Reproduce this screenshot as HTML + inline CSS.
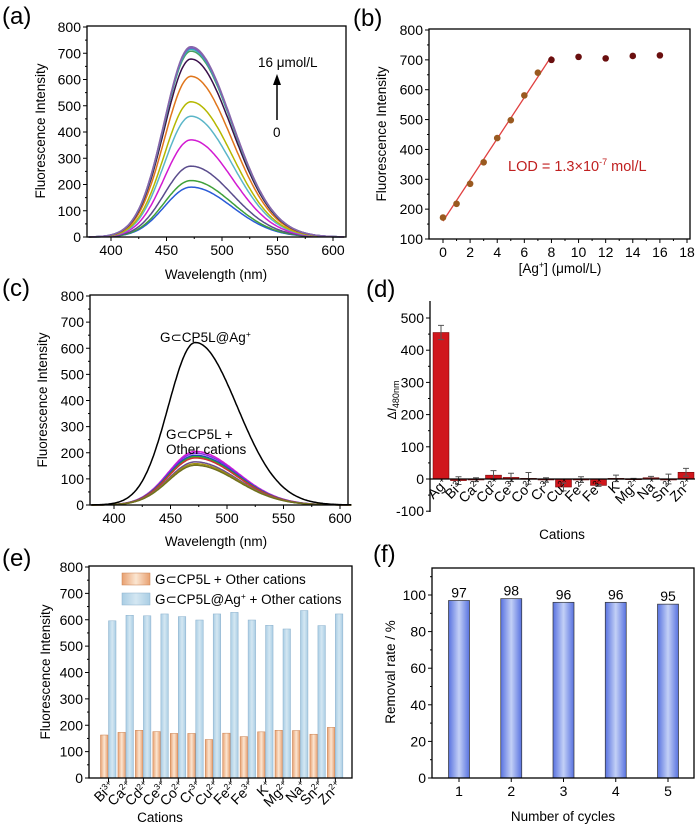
<!DOCTYPE html>
<html><head><meta charset="utf-8"><style>
html,body{margin:0;padding:0;background:#fff;}
svg{display:block;font-family:"Liberation Sans",sans-serif;}
</style></head><body>
<svg id="fig" width="700" height="827" viewBox="0 0 700 827" xmlns="http://www.w3.org/2000/svg">
<defs>
<linearGradient id="gOr" x1="0" x2="1" y1="0" y2="0"><stop offset="0" stop-color="#e8a070"/><stop offset="0.5" stop-color="#fbe6d2"/><stop offset="1" stop-color="#e8a070"/></linearGradient>
<linearGradient id="gBl" x1="0" x2="1" y1="0" y2="0"><stop offset="0" stop-color="#a9cde4"/><stop offset="0.5" stop-color="#d4e7f2"/><stop offset="1" stop-color="#a9cde4"/></linearGradient>
<linearGradient id="gF" x1="0" x2="1" y1="0" y2="0"><stop offset="0" stop-color="#5872e0"/><stop offset="0.5" stop-color="#c3d0f6"/><stop offset="1" stop-color="#5872e0"/></linearGradient>
</defs>
</svg>
<script>
// ---- data ----
const aPeaks=[190,215,270,370,460,515,612,678,708,715,720,725];
const aColors=["#2a5bd7","#3fa03a","#5a4c8c","#d21ad2","#5bb6c8","#b5b800","#e0761c","#3a0f4a","#4aa060","#30b0c0","#7a5cc0","#8866aa"];
const bX=[0,1,2,3,4,5,6,7,8,10,12,14,16];
const bY=[172,218,285,357,438,498,581,657,700,710,705,713,715];
const bFit=[[0,160],[8,712]];
const cPeakAg=[622];
const cPeaks=[205,198,190,185,180,165,158,152];
const cColors=["#d21ad2","#8a2be2","#1f3fbf","#2bb02b","#d03030","#6a4c8c","#a09010","#707020"];
const dCats=["Ag","Bi","Ca","Cd","Ce","Co","Cr","Cu","Fe","Fe","K","Mg","Na","Sn","Zn"];
const dCharges=["+","3+","2+","2+","3+","2+","3+","2+","2+","3+","+","2+","+","2+","2+"];
const dVals=[455,-5,-2,12,5,2,-3,-25,-2,-20,2,1,4,0,21];
const dErr=[22,12,6,14,13,18,7,12,9,3,10,1,4,15,12];
const eCats=["Bi","Ca","Cd","Ce","Co","Cr","Cu","Fe","Fe","K","Mg","Na","Sn","Zn"];
const eCharges=["3+","2+","2+","3+","2+","3+","2+","2+","3+","+","2+","+","2+","2+"];
const eOrange=[163,173,181,176,169,169,146,170,157,175,181,180,166,192];
const eBlue=[596,617,615,622,612,599,622,628,599,579,565,635,578,622];
const fCats=[1,2,3,4,5];
const fVals=[97,98,96,96,95];

const NS="http://www.w3.org/2000/svg";
const svg=document.getElementById('fig');
const TF=14, AF=13.5;
function el(tag,attrs,parent,text){const e=document.createElementNS(NS,tag);for(const k in attrs)e.setAttribute(k,attrs[k]);if(text!==undefined)e.textContent=text;(parent||svg).appendChild(e);return e;}
function lin(d0,d1,p0,p1){return v=>p0+(v-d0)*(p1-p0)/(d1-d0);}
function spec(w,peak){const c=472;const s=w<c?24:37;return peak*Math.exp(-((w-c)*(w-c))/(2*s*s));}

function frame(g,x0,y0,x1,y1,box){
  if(box){const r=el('rect',{x:x0,y:y0,width:x1-x0,height:y1-y0,fill:'none',stroke:'#000','stroke-width':1.3},g);}
}
function yTicks(g,ys,vals,x0,fs,minor){
  vals.forEach(v=>{const y=ys(v);el('line',{x1:x0-4,x2:x0,y1:y,y2:y,stroke:'#000','stroke-width':1},g);
    const t=el('text',{x:x0-6,y:y+5,'text-anchor':'end','font-size':fs},g,String(v));});
  if(minor)minor.forEach(v=>{const y=ys(v);el('line',{x1:x0-2,x2:x0,y1:y,y2:y,stroke:'#000','stroke-width':1},g);});
}
function xTicks(g,xs,vals,y0,fs,minor){
  vals.forEach(v=>{const x=xs(v);el('line',{x1:x,x2:x,y1:y0,y2:y0+4,stroke:'#000','stroke-width':1},g);
    const t=el('text',{x:x,y:y0+18,'text-anchor':'middle','font-size':fs},g,String(v));});
  if(minor)minor.forEach(v=>{const x=xs(v);el('line',{x1:x,x2:x,y1:y0,y2:y0+2,stroke:'#000','stroke-width':1},g);});
}
function label(txt,x,y){const t=el('text',{x:x,y:y,'font-size':24},svg,txt);}
function ytitle(g,txt,x,y,fs){const t=el('text',{x:0,y:0,transform:`translate(${x},${y}) rotate(-90)`,'text-anchor':'middle','font-size':fs||AF},g,txt);return t;}
function xtitle(g,txt,x,y){const t=el('text',{x:x,y:y,'text-anchor':'middle','font-size':AF},g,txt);return t;}
function ion(g,x,y,name,ch,fs){const t=el('text',{x:0,y:0,transform:`translate(${x},${y}) rotate(-45)`,'text-anchor':'end','font-size':fs},g);
  
  el('tspan',{},t,name);el('tspan',{dy:-5,'font-size':fs*0.62},t,ch);}
function specPanel(g,xs,ys,peaks,colors,nm){
  peaks.forEach((p,i)=>{let d='';for(let w=380;w<=610;w+=1){const y=ys(spec(w,p));d+=(w===380?'M':'L')+xs(w).toFixed(1)+','+y.toFixed(1);}
    const pth=el('path',{d:d,fill:'none',stroke:colors[i%colors.length],'stroke-width':1.5},g);});
}

// ---- panel a ----
{const g=el('g',{});
 const xs=lin(400,600,111,333),ys=lin(0,800,237,27);
 specPanel(g,xs,ys,aPeaks,aColors,'spectrum-curve');
 frame(g,87,26,346,237,true);
 yTicks(g,ys,[0,100,200,300,400,500,600,700,800],87,TF,[50,150,250,350,450,550,650,750]);
 xTicks(g,xs,[400,450,500,550,600],237,TF,[425,475,525,575]);
 ytitle(g,'Fluorescence Intensity',45,131);xtitle(g,'Wavelength (nm)',216,279);
 const t=el('text',{x:258,y:67,'font-size':AF},g,'16 μmol/L');
 el('line',{x1:277,x2:277,y1:120,y2:82,stroke:'#000','stroke-width':1.5},g);
 el('polygon',{points:'273,85 281,85 277,74',fill:'#000'},g);
 const t0=el('text',{x:273,y:137,'font-size':AF},g,'0');
}
label('(a)',2,24);
// ---- panel b ----
{const g=el('g',{});
 const xs=lin(0,18,443,687),ys=lin(100,800,239,30);
 frame(g,429,29,690,239,true);
 yTicks(g,ys,[100,200,300,400,500,600,700,800],429,TF,[150,250,350,450,550,650,750]);
 xTicks(g,xs,[0,2,4,6,8,10,12,14,16,18],239,TF,[1,3,5,7,9,11,13,15,17]);
 ytitle(g,'Fluorescence Intensity',386,134);
 const xt=xtitle(g,'',560,273);el('tspan',{},xt,'[Ag');el('tspan',{dy:-5,'font-size':9},xt,'+');el('tspan',{dy:5},xt,'] (μmol/L)');
 const ln=el('line',{x1:xs(bFit[0][0]),y1:ys(bFit[0][1]),x2:xs(bFit[1][0]),y2:ys(bFit[1][1]),stroke:'#e04040','stroke-width':1.3},g);
 bX.forEach((x,i)=>{const c=el('circle',{cx:xs(x),cy:ys(bY[i]),r:3.3,fill:i<8?'#9a5a20':'#6a0f0f'},g);});
 const t=el('text',{x:508,y:171,'font-size':14.5,fill:'#c02020'},g);
 el('tspan',{},t,'LOD = 1.3×10');el('tspan',{dy:-6,'font-size':9},t,'-7');el('tspan',{dy:6},t,' mol/L');
}
label('(b)',353,26);
// ---- panel c ----
{const g=el('g',{});
 const xs=lin(400,600,114,340),ys=lin(0,800,505,296);
 specPanel(g,xs,ys,cPeaks,cColors,'cation-spectrum');
 specPanel(g,xs,ys,cPeakAg,['#000'],'ag-spectrum');
 frame(g,90,295,348,505,true);
 yTicks(g,ys,[0,100,200,300,400,500,600,700,800],90,TF,[50,150,250,350,450,550,650,750]);
 xTicks(g,xs,[400,450,500,550,600],505,TF,[425,475,525,575]);
 ytitle(g,'Fluorescence Intensity',47,400);xtitle(g,'Wavelength (nm)',216,546);
 const t1=el('text',{x:160,y:342,'font-size':AF},g);
 el('tspan',{},t1,'G⊂CP5L@Ag');el('tspan',{dy:-5,'font-size':8.5},t1,'+');
 const t2=el('text',{x:166,y:439,'font-size':AF},g,'G⊂CP5L +');
 const t3=el('text',{x:166,y:454,'font-size':AF},g,'Other cations');
}
label('(c)',2,296);
// ---- panel d ----
{const g=el('g',{});
 const ys=lin(0,500,479,318);const xs=i=>441+i*17.5;
 el('line',{x1:430,x2:430,y1:301,y2:512,stroke:'#000','stroke-width':1.3},g);
 dVals.forEach((v,i)=>{const y0=ys(0),y1=ys(v);const r=el('rect',{x:xs(i)-8,y:Math.min(y0,y1),width:16,height:Math.max(1,Math.abs(y1-y0)),fill:'#d0161c',stroke:'#600','stroke-width':0.5},g);
   const ya=ys(v+dErr[i]),yb=ys(v-dErr[i]);el('path',{d:`M${xs(i)},${ya}V${yb}M${xs(i)-3},${ya}H${xs(i)+3}M${xs(i)-3},${yb}H${xs(i)+3}`,stroke:'#555','stroke-width':1,fill:'none'},g);
   ion(g,xs(i)+8,484,dCats[i],dCharges[i],14);});
 el('line',{x1:430,x2:695,y1:ys(0),y2:ys(0),stroke:'#000','stroke-width':1.3},g);
 yTicks(g,ys,[-100,0,100,200,300,400,500],430,TF,[-50,50,150,250,350,450]);
 const t=ytitle(g,'',396,400,12);el('tspan',{},t,'Δ');el('tspan',{'font-style':'italic'},t,'I');el('tspan',{dy:3,'font-size':9},t,'480nm');
 xtitle(g,'Cations',562,539);
}
label('(d)',366,297);
// ---- panel e ----
{const g=el('g',{});
 const ys=lin(0,800,778,567);const xs=i=>104.5+i*17.45;
 eCats.forEach((c,i)=>{const yo=ys(eOrange[i]),yb=ys(eBlue[i]);
   const r1=el('rect',{x:xs(i)-4,y:yo,width:7.5,height:778-yo,fill:'url(#gOr)',stroke:'#c88050','stroke-width':0.5},g);
   const r2=el('rect',{x:xs(i)+4,y:yb,width:7.5,height:778-yb,fill:'url(#gBl)',stroke:'#8ab0cc','stroke-width':0.5},g);
   ion(g,xs(i)+11,787,c,eCharges[i],14);});
 frame(g,89,566,352,778,true);
 yTicks(g,ys,[0,100,200,300,400,500,600,700,800],89,TF,[50,150,250,350,450,550,650,750]);
 eCats.forEach((c,i)=>el('line',{x1:xs(i)+4,x2:xs(i)+4,y1:778,y2:782,stroke:'#000'},g));
 ytitle(g,'Fluorescence Intensity',50,672);xtitle(g,'Cations',160,822);
 const l1=el('rect',{x:122,y:573,width:28,height:12,fill:'url(#gOr)',stroke:'#c88050','stroke-width':0.5},g);
 const t1=el('text',{x:155,y:584,'font-size':AF},g,'G⊂CP5L + Other cations');
 const l2=el('rect',{x:122,y:593,width:28,height:12,fill:'url(#gBl)',stroke:'#8ab0cc','stroke-width':0.5},g);
 const t2=el('text',{x:155,y:604,'font-size':AF},g);
 el('tspan',{},t2,'G⊂CP5L@Ag');el('tspan',{dy:-5,'font-size':8.5},t2,'+');el('tspan',{dy:5},t2,' + Other cations');
}
label('(e)',2,566);
// ---- panel f ----
{const g=el('g',{});
 const ys=lin(0,100,778,595);const xs=lin(1,5,459,668);
 fCats.forEach((c,i)=>{const y=ys(fVals[i]);const r=el('rect',{x:xs(c)-10.5,y:y,width:21,height:778-y,fill:'url(#gF)',stroke:'#333','stroke-width':0.7},g);
   const t=el('text',{x:xs(c),y:y-3,'text-anchor':'middle','font-size':TF},g,String(fVals[i]));});
 frame(g,432,568,694,778,true);
 yTicks(g,ys,[0,20,40,60,80,100],432,TF,[10,30,50,70,90,110]);
 xTicks(g,xs,fCats,778,TF);
 ytitle(g,'Removal rate / %',395,672);xtitle(g,'Number of cycles',563,821);
}
label('(f)',373,562);
</script>
</body></html>
